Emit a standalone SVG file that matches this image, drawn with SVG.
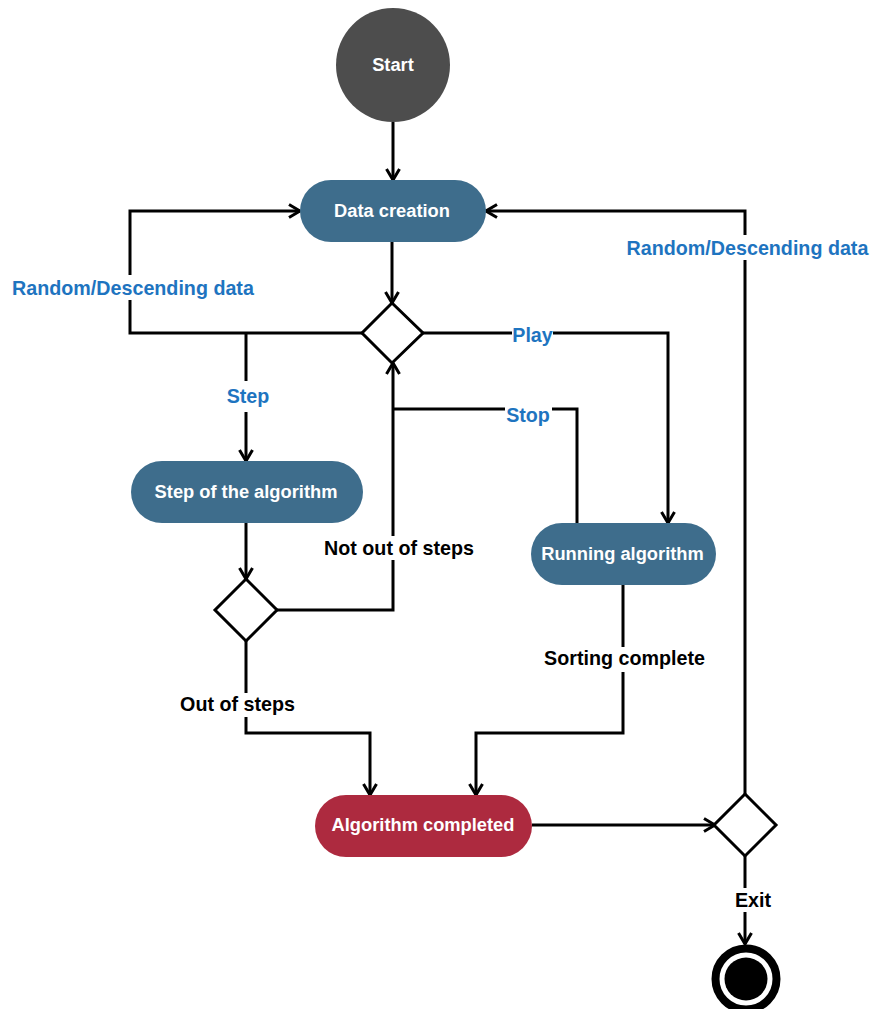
<svg xmlns="http://www.w3.org/2000/svg" width="871" height="1009" viewBox="0 0 871 1009">
  <style>
    .node-text { font-family: "Liberation Sans", Arial, sans-serif; font-weight: bold; font-size: 18.3px; fill: #ffffff; text-anchor: middle; }
    .label { font-family: "Liberation Sans", Arial, sans-serif; font-weight: bold; font-size: 19.7px; text-anchor: middle; }
    .blue { fill: #1e74c0; }
    .dark { fill: #000000; }
    .action { fill: #3e6d8c; }
    .done { fill: #ad2a3f; }
    .decision { fill: #ffffff; stroke: #000000; stroke-width: 3; stroke-linejoin: miter; }
    .edge { fill: none; stroke: #000000; stroke-width: 3; stroke-linejoin: miter; }
    .arrow { marker-end: url(#open-arrow); }
    .label-bg { fill: #ffffff; }
  </style>
  <defs>
    <marker id="open-arrow" viewBox="0 0 14 16" refX="12.5" refY="8" markerWidth="14" markerHeight="16" markerUnits="userSpaceOnUse" orient="auto">
      <path d="M1.5,1.5 L12.5,8 L1.5,14.5" fill="none" stroke="#000000" stroke-width="3"/>
    </marker>
  </defs>

  <rect width="871" height="1009" fill="#ffffff"/>

  <!-- connectors -->
  <g id="connectors">
    <path class="edge arrow" d="M393,122 V180"/>
    <path class="edge arrow" d="M392,242 V303"/>
    <path class="edge arrow" d="M362,333 H130 V211 H300"/>
    <path class="edge arrow" d="M246,333 V461"/>
    <path class="edge arrow" d="M423,333 H668 V523"/>
    <path class="edge arrow" d="M246,523 V579"/>
    <path class="edge arrow" d="M277,610 H393 V363"/>
    <path class="edge" d="M577,523 V409 H393"/>
    <path class="edge arrow" d="M246,641 V733 H370 V795"/>
    <path class="edge arrow" d="M623,585 V733 H476 V795"/>
    <path class="edge arrow" d="M532,825 H715"/>
    <path class="edge arrow" d="M745,794 V211 H486"/>
    <path class="edge arrow" d="M745,856 V944"/>

    <!-- edge labels -->
    <rect class="label-bg" x="12" y="275" width="243" height="25"/>
    <text class="label blue" x="133" y="295">Random/Descending data</text>
    <rect class="label-bg" x="626" y="235" width="244" height="25"/>
    <text class="label blue" x="747.5" y="255">Random/Descending data</text>
    <rect class="label-bg" x="226" y="381" width="44" height="31"/>
    <text class="label blue" x="248" y="403">Step</text>
    <rect class="label-bg" x="512" y="322" width="41" height="24"/>
    <text class="label blue" x="532.5" y="342">Play</text>
    <rect class="label-bg" x="505" y="400" width="47" height="26"/>
    <text class="label blue" x="528" y="422">Stop</text>
    <rect class="label-bg" x="323" y="536" width="152" height="24"/>
    <text class="label dark" x="399" y="555">Not out of steps</text>
    <rect class="label-bg" x="179" y="693" width="117" height="24"/>
    <text class="label dark" x="237.5" y="711">Out of steps</text>
    <rect class="label-bg" x="543" y="647" width="163" height="25"/>
    <text class="label dark" x="624.5" y="665">Sorting complete</text>
    <rect class="label-bg" x="734" y="888" width="38" height="24"/>
    <text class="label dark" x="753" y="907">Exit</text>
  </g>

  <!-- nodes -->
  <g id="start">
    <circle cx="393" cy="65" r="57" fill="#4d4d4d"/>
    <text class="node-text" x="393" y="71">Start</text>
  </g>

  <g id="data-creation">
    <rect class="action" x="300" y="180" width="186" height="62" rx="31"/>
    <text class="node-text" x="392" y="217">Data creation</text>
  </g>

  <g id="mode-choice">
    <polygon class="decision" points="392,303 423,333 392,363 362,333"/>
  </g>

  <g id="step-node">
    <rect class="action" x="131" y="461" width="232" height="62" rx="31"/>
    <text class="node-text" x="246" y="498">Step of the algorithm</text>
  </g>

  <g id="steps-check">
    <polygon class="decision" points="246,579 277,610 246,641 215,610"/>
  </g>

  <g id="running-node">
    <rect class="action" x="531" y="523" width="185" height="62" rx="31"/>
    <text class="node-text" x="622.5" y="560">Running algorithm</text>
  </g>

  <g id="completed-node">
    <rect class="done" x="315" y="795" width="217" height="62" rx="31"/>
    <text class="node-text" x="423" y="831">Algorithm completed</text>
  </g>

  <g id="exit-choice">
    <polygon class="decision" points="745,794 776,825 745,856 714,825"/>
  </g>

  <g id="end">
    <circle cx="746" cy="979" r="30.5" fill="#ffffff" stroke="#000000" stroke-width="8"/>
    <circle cx="746" cy="979" r="21.5" fill="#000000"/>
  </g>
</svg>
